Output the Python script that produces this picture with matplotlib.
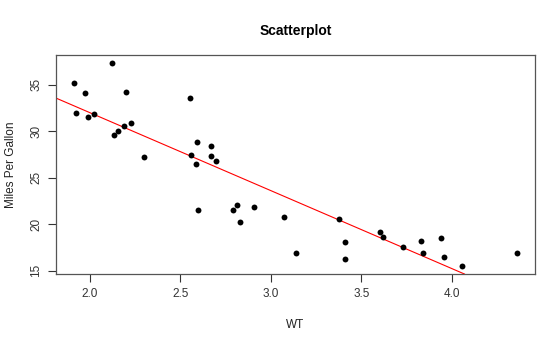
import numpy as np
import matplotlib.pyplot as plt

plt.rcParams['font.family'] = ['Liberation Sans', 'DejaVu Sans']

# weight (WT) and miles per gallon
wt = [1.913, 1.925, 1.974, 1.988, 2.022, 2.125, 2.135, 2.155, 2.190, 2.199,
      2.230, 2.302, 2.554, 2.558, 2.586, 2.592, 2.600, 2.669, 2.669, 2.699,
      2.794, 2.814, 2.832, 2.910, 3.071, 3.140, 3.378, 3.412, 3.412, 3.605,
      3.621, 3.730, 3.831, 3.843, 3.940, 3.956, 4.058, 4.360]
mpg = [35.14, 31.90, 34.14, 31.55, 31.83, 37.27, 29.53, 30.00, 30.54, 34.21,
       30.90, 27.23, 33.53, 27.45, 26.47, 28.78, 21.47, 28.38, 27.37, 26.76,
       21.55, 22.01, 20.25, 21.87, 20.79, 16.94, 20.54, 18.09, 16.19, 19.17,
       18.56, 17.55, 18.17, 16.94, 18.49, 16.51, 15.50, 16.87]
xticks = [2.0, 2.5, 3.0, 3.5, 4.0]
yticks = [15, 20, 25, 30, 35]

x = np.asarray(wt)
y = np.asarray(mpg)
slope, intercept = np.polyfit(x, y, 1)

fig = plt.figure(figsize=(5.6, 3.44), dpi=100)
ax = fig.add_axes([0.1007, 0.2035, 0.8538, 0.6355])

ax.scatter(x, y, s=18, color='black', zorder=3, linewidths=0)
ax.axline((0, intercept), slope=slope, color='red', lw=0.8, zorder=2)

# R style 4% padding
px = (x.max() - x.min()) * 0.04
py = (y.max() - y.min()) * 0.04
ax.set_xlim(x.min() - px, x.max() + px)
ax.set_ylim(y.min() - py, y.max() + py)

ax.set_xticks(xticks)
ax.set_xticklabels([f"{t:.1f}" for t in xticks])
ax.set_yticks(yticks)
ax.set_yticklabels([str(t) for t in yticks], rotation=90, va='center')
ax.tick_params(direction='out', length=6, width=0.8, colors='#333333',
               labelsize=8.5, pad=4)
for sp in ax.spines.values():
    sp.set_color('#555555')
    sp.set_linewidth(0.9)

ax.set_title("Scatterplot", fontsize=10, fontweight='bold', pad=15)
ax.set_xlabel("WT", fontsize=8.5, color='#222222', labelpad=14)
ax.set_ylabel("Miles Per Gallon", fontsize=8.5, color='#222222', labelpad=10)

fig.savefig("out.png", dpi=100)
